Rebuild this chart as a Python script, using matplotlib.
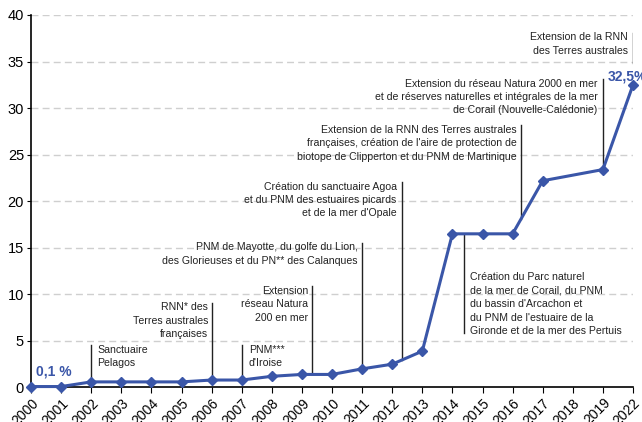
import matplotlib
matplotlib.use("Agg")
import matplotlib.pyplot as plt
import numpy as np

plt.rcParams['font.family'] = ['Liberation Sans', 'DejaVu Sans']

# categories on the x axis (equally spaced, 2020-2021 absent)
years = ['2000', '2001', '2002', '2003', '2004', '2005', '2006', '2007', '2008', '2009',
         '2010', '2011', '2012', '2013', '2014', '2015', '2016', '2017', '2018', '2019', '2022']
# share of protected marine area (%) - no value for 2018
share = [0.1, 0.1, 0.6, 0.6, 0.6, 0.6, 0.8, 0.8, 1.2, 1.4,
         1.4, 2.0, 2.5, 3.9, 16.5, 16.5, 16.5, 22.2, np.nan, 23.4, 32.5]

notes = [
    "Sanctuaire\nPelagos",
    "RNN* des\nTerres australes\nfrançaises",
    "PNM***\nd'Iroise",
    "Extension\nréseau Natura\n200 en mer",
    "PNM de Mayotte, du golfe du Lion,\ndes Glorieuses et du PN** des Calanques",
    "Création du sanctuaire Agoa\net du PNM des estuaires picards\net de la mer d'Opale",
    "Extension de la RNN des Terres australes\nfrançaises, création de l'aire de protection de\nbiotope de Clipperton et du PNM de Martinique",
    "Extension du réseau Natura 2000 en mer\net de réserves naturelles et intégrales de la mer\nde Corail (Nouvelle-Calédonie)",
    "Extension de la RNN\ndes Terres australes",
    "Création du Parc naturel\nde la mer de Corail, du PNM\ndu bassin d'Arcachon et\ndu PNM de l'estuaire de la\nGironde et de la mer des Pertuis",
]
first_label = "0,1 %"
last_label = "32,5%"

# layout: (line x, line start y or None for curve, line end y, text x, text y, ha)
note_pos = [
    (2.0, None, 4.6, 2.2, 4.55, 'left'),
    (6.0, None, 9.1, 5.88, 9.15, 'right'),
    (7.0, None, 4.6, 7.23, 4.55, 'left'),
    (9.35, None, 10.85, 9.2, 10.9, 'right'),
    (11.0, None, 15.55, 10.85, 15.6, 'right'),
    (12.31, None, 22.1, 12.15, 22.1, 'right'),
    (16.27, None, 28.2, 16.13, 28.2, 'right'),
    (19.0, None, 33.1, 18.82, 33.15, 'right'),
    (20.0, 34.8, 38.1, 19.84, 38.15, 'right'),
    (14.39, None, 5.85, 14.58, 12.35, 'left'),
]

blue = '#3a56a8'
x = np.arange(len(years))
y = np.array(share, dtype=float)
ok = ~np.isnan(y)

fig = plt.figure(figsize=(6.42, 4.22), dpi=100)
ax = fig.add_axes([0.0483, 0.0818, 0.9377, 0.8827])

ax.set_xlim(0, len(years) - 1)
ax.set_ylim(0, 40)
ax.set_yticks(np.arange(0, 41, 5))
ax.set_xticks(x)
ax.set_xticklabels(years, rotation=45, ha='right', rotation_mode='anchor', fontsize=10)
ax.tick_params(axis='y', labelsize=10.5, length=3, width=0.8, pad=2)
ax.tick_params(axis='x', length=4, width=0.8, pad=2)

for v in range(5, 41, 5):
    ax.axhline(v, color='#cfcfcf', lw=1, ls=(0, (5, 3)), zorder=0)

for s in ['top', 'right']:
    ax.spines[s].set_visible(False)
for s in ['left', 'bottom']:
    ax.spines[s].set_linewidth(1.2)

ax.plot(x[ok], y[ok], color=blue, lw=2.2, marker='D', markersize=5, zorder=4, clip_on=False)

xv, yv = x[ok], y[ok]
for txt, (lx, ls, le, tx, ty, ha) in zip(notes, note_pos):
    y0 = np.interp(lx, xv, yv) if ls is None else ls
    ax.plot([lx, lx], [y0, le], color='#222222', lw=1, zorder=3)
    ax.text(tx, ty, txt, ha=ha, va='top', fontsize=7.6, color='#222222', linespacing=1.42)

ax.text(0.17, 1.27, first_label, color=blue, fontsize=10, fontweight='bold', ha='left', va='baseline')
ax.text(19.15, 32.95, last_label, color=blue, fontsize=10, fontweight='bold', ha='left', va='baseline',
        clip_on=False)

fig.savefig('out.png', dpi=100)
